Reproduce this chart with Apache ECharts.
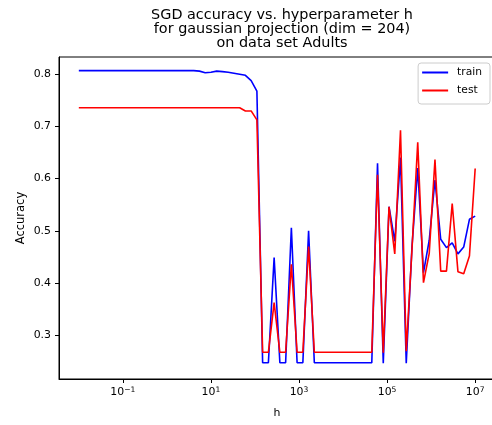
<!DOCTYPE html>
<html>
<head>
<meta charset="utf-8">
<script src="https://cdn.jsdelivr.net/npm/echarts@6/dist/echarts.min.js"></script>
<style>
    html, body { margin: 0; padding: 0; background: #fff; }
    #chart-box { width: 492px; height: 425px; }
</style>
</head>
<body>
<div id="chart-box"></div>
<script>
    // h = logspace(-2, 7, 70), kept as log10 exponents
    let hExp = [];
    for (let i = 0; i < 70; i++) {
        hExp.push(-2 + i * 9 / 69);
    }

    let train = [
        0.806, 0.806, 0.806, 0.806, 0.806, 0.806, 0.806, 0.806, 0.806, 0.806,
        0.806, 0.806, 0.806, 0.806, 0.806, 0.806, 0.806, 0.806, 0.806, 0.806,
        0.806, 0.805, 0.802, 0.803, 0.805, 0.804, 0.803, 0.801, 0.799, 0.797,
        0.787, 0.767, 0.248, 0.248, 0.449, 0.248, 0.248, 0.506, 0.248, 0.248,
        0.500, 0.248, 0.248, 0.248, 0.248, 0.248, 0.248, 0.248, 0.248, 0.248,
        0.248, 0.248, 0.629, 0.247, 0.546, 0.480, 0.640, 0.247, 0.470, 0.620,
        0.420, 0.482, 0.597, 0.484, 0.468, 0.477, 0.456, 0.469, 0.522, 0.528
    ];

    let test = [
        0.735, 0.735, 0.735, 0.735, 0.735, 0.735, 0.735, 0.735, 0.735, 0.735,
        0.735, 0.735, 0.735, 0.735, 0.735, 0.735, 0.735, 0.735, 0.735, 0.735,
        0.735, 0.735, 0.735, 0.735, 0.735, 0.735, 0.735, 0.735, 0.735, 0.729,
        0.729, 0.712, 0.268, 0.268, 0.363, 0.268, 0.268, 0.436, 0.268, 0.268,
        0.470, 0.268, 0.268, 0.268, 0.268, 0.268, 0.268, 0.268, 0.268, 0.268,
        0.268, 0.268, 0.607, 0.267, 0.546, 0.456, 0.692, 0.270, 0.465, 0.669,
        0.401, 0.457, 0.636, 0.423, 0.423, 0.552, 0.422, 0.418, 0.452, 0.619
    ];

    let xTicks = [-1, 1, 3, 5, 7];
    let yTicks = [0.3, 0.4, 0.5, 0.6, 0.7, 0.8];

    let font = 'DejaVu Sans';

    let option = {
        animation: false,
        title: {
            text: 'SGD accuracy vs. hyperparameter h\nfor gaussian projection (dim = 204)\non data set Adults',
            left: 277,
            top: 3,
            textAlign: 'center',
            textStyle: {
                fontFamily: font,
                fontSize: 14.4,
                fontWeight: 'normal',
                color: '#000',
                lineHeight: 14.3
            }
        },
        legend: {
            data: ['train', 'test'],
            orient: 'vertical',
            right: 2,
            top: 63,
            icon: 'rect',
            itemWidth: 26,
            itemHeight: 2,
            itemGap: 5,
            padding: [3, 8, 7, 4],
            borderColor: '#cccccc',
            borderWidth: 1,
            borderRadius: 3,
            backgroundColor: 'rgba(255,255,255,0.8)',
            textStyle: {
                fontFamily: font,
                fontSize: 10.7,
                color: '#000',
                lineHeight: 13,
                padding: [0, 0, 0, 4]
            }
        },
        grid: {
            left: 59,
            top: 57,
            width: 436,
            height: 322,
            show: true,
            borderColor: '#000',
            borderWidth: 1,
            outerBoundsMode: 'none',
            containLabel: false
        },
        xAxis: {
            type: 'value',
            min: -2.45,
            max: 7.45,
            name: 'h',
            nameLocation: 'middle',
            nameGap: 29,
            nameMoveOverlap: false,
            nameTextStyle: { fontFamily: font, fontSize: 10.9, color: '#000' },
            splitLine: { show: false },
            axisLine: { onZero: false, lineStyle: { color: '#000', width: 1 } },
            axisTick: {
                customValues: xTicks,
                length: 4,
                lineStyle: { color: '#000', width: 1 }
            },
            axisLabel: {
                customValues: xTicks,
                margin: 7,
                formatter: function (v) {
                    let e = String(Math.round(v)).replace('-', '\u2212');
                    return '{b|10}{s|' + e + '}';
                },
                rich: {
                    b: { fontFamily: font, fontSize: 10.9, color: '#000', lineHeight: 13 },
                    s: { fontFamily: font, fontSize: 7.6, color: '#000', lineHeight: 8, verticalAlign: 'top' }
                }
            }
        },
        yAxis: {
            type: 'value',
            min: 0.217,
            max: 0.832,
            name: 'Accuracy',
            nameLocation: 'middle',
            nameGap: 32,
            nameMoveOverlap: false,
            nameTextStyle: { fontFamily: font, fontSize: 11.5, color: '#000' },
            splitLine: { show: false },
            axisLine: { show: true, onZero: false, lineStyle: { color: '#000', width: 1 } },
            axisTick: {
                show: true,
                customValues: yTicks,
                length: 4,
                lineStyle: { color: '#000', width: 1 }
            },
            axisLabel: {
                customValues: yTicks,
                margin: 8,
                fontFamily: font,
                fontSize: 10.9,
                color: '#000',
                formatter: function (v) { return v.toFixed(1); }
            }
        },
        series: [
            {
                name: 'train',
                type: 'line',
                data: hExp.map(function (x, i) { return [x, train[i]]; }),
                showSymbol: false,
                color: '#0000ff',
                lineStyle: { color: '#0000ff', width: 1.6 }
            },
            {
                name: 'test',
                type: 'line',
                data: hExp.map(function (x, i) { return [x, test[i]]; }),
                showSymbol: false,
                color: '#ff0000',
                lineStyle: { color: '#ff0000', width: 1.6 }
            }
        ]
    };

    let chart = echarts.init(document.getElementById('chart-box'));
    chart.setOption(option);
</script>
</body>
</html>
